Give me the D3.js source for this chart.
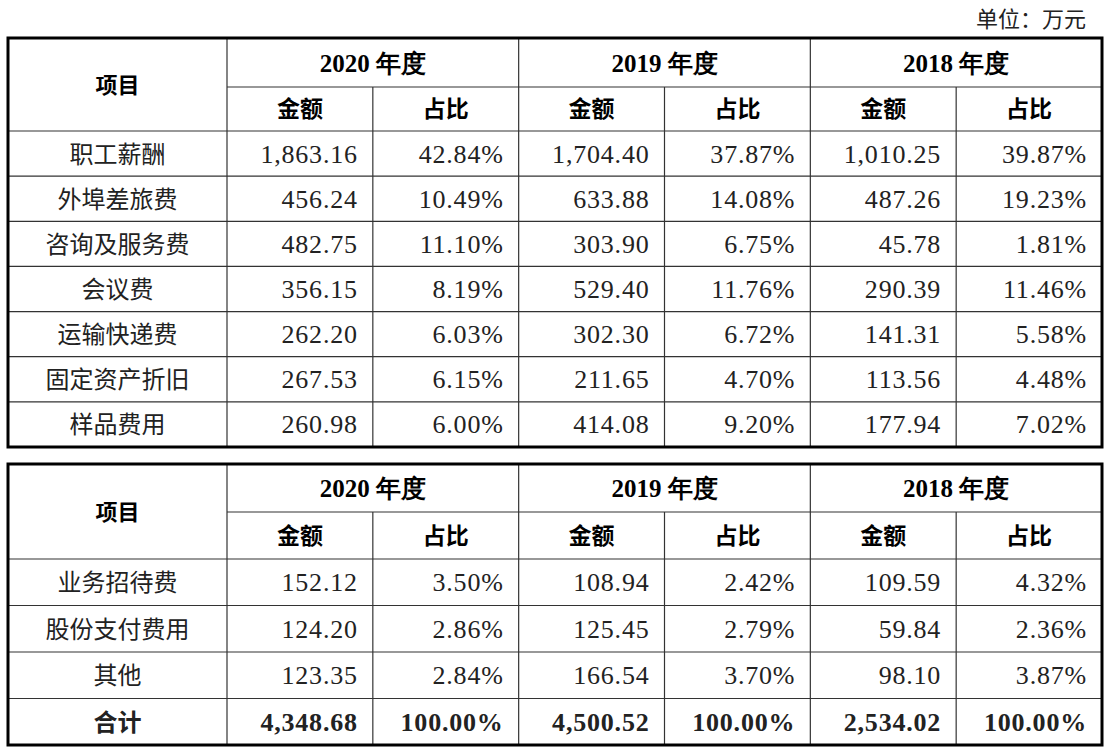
<!DOCTYPE html>
<html><head><meta charset="utf-8">
<script src="https://cdn.jsdelivr.net/npm/d3@7"></script>
<style>body{margin:0;background:#fff}</style></head>
<body><svg id="c" width="1110" height="750"></svg>
<script>
const years = ["2020 年度","2019 年度","2018 年度"];
const subHeads = ["金额","占比"];
const items1 = ["职工薪酬","外埠差旅费","咨询及服务费","会议费","运输快递费","固定资产折旧","样品费用"];
const vals1 = [
 ["1,863.16","42.84%","1,704.40","37.87%","1,010.25","39.87%"],
 ["456.24","10.49%","633.88","14.08%","487.26","19.23%"],
 ["482.75","11.10%","303.90","6.75%","45.78","1.81%"],
 ["356.15","8.19%","529.40","11.76%","290.39","11.46%"],
 ["262.20","6.03%","302.30","6.72%","141.31","5.58%"],
 ["267.53","6.15%","211.65","4.70%","113.56","4.48%"],
 ["260.98","6.00%","414.08","9.20%","177.94","7.02%"]];
const items2 = ["业务招待费","股份支付费用","其他","合计"];
const vals2 = [
 ["152.12","3.50%","108.94","2.42%","109.59","4.32%"],
 ["124.20","2.86%","125.45","2.79%","59.84","2.36%"],
 ["123.35","2.84%","166.54","3.70%","98.10","3.87%"],
 ["4,348.68","100.00%","4,500.52","100.00%","2,534.02","100.00%"]];

const svg = d3.select("#c");
const serif = "'Liberation Serif','Times New Roman',serif";
const cjk = "'Noto Sans CJK SC',sans-serif";
svg.append("text").attr("x",1086).attr("y",27).attr("text-anchor","end")
  .attr("font-family",cjk).attr("font-size",22).attr("fill","#222").text("单位：万元");

const x = d3.scaleLinear().domain([0,6]).range([227,1102]);
const left = 8;

function table(top, hh, rowsTop, rowsBottom, items, vals, lastBold){
  const g = svg.append("g");
  const y = d3.scaleBand().domain(d3.range(items.length)).range([rowsTop, rowsBottom]);
  const line = (x1,y1,x2,y2)=>g.append("line").attr("x1",x1).attr("y1",y1).attr("x2",x2).attr("y2",y2)
     .attr("stroke","#333").attr("stroke-width",1.2);
  line(x(0),hh,x(6),hh);
  line(left,rowsTop,x(6),rowsTop);
  d3.range(1,items.length).forEach(i=>line(left,y(i),x(6),y(i)));
  line(x(0),top,x(0),rowsBottom);
  [2,4].forEach(i=>line(x(i),top,x(i),rowsBottom));
  [1,3,5].forEach(i=>line(x(i),hh,x(i),rowsBottom));
  g.append("rect").attr("x",left).attr("y",top).attr("width",x(6)-left).attr("height",rowsBottom-top)
    .attr("fill","none").attr("stroke","#000").attr("stroke-width",3);
  g.append("text").attr("x",(left+x(0))/2).attr("y",(top+rowsTop)/2+8).attr("text-anchor","middle")
    .attr("font-family",cjk).attr("font-weight","bold").attr("font-size",22).text("项目");
  years.forEach((yr,i)=>{
    g.append("text").attr("x",(x(2*i)+x(2*i+2))/2).attr("y",(top+hh)/2+9).attr("text-anchor","middle")
     .attr("font-family",serif).attr("font-weight","bold").attr("font-size",25).text(yr);
    subHeads.forEach((s,j)=>g.append("text").attr("x",(x(2*i+j)+x(2*i+j+1))/2).attr("y",(hh+rowsTop)/2+8)
     .attr("text-anchor","middle").attr("font-family",cjk).attr("font-weight","bold").attr("font-size",23).text(s));
  });
  items.forEach((it,r)=>{
    const bold = lastBold && r===items.length-1;
    const cy = y(r)+y.bandwidth()/2+9;
    g.append("text").attr("x",(left+x(0))/2).attr("y",cy).attr("text-anchor","middle")
      .attr("font-family",cjk).attr("font-weight",bold?"bold":"normal").attr("font-size",24).attr("fill","#222").text(it);
    vals[r].forEach((v,c)=>g.append("text").attr("x",x(c+1)-15).attr("y",cy).attr("text-anchor","end")
      .attr("font-family",serif).attr("font-weight",bold?"bold":"normal").attr("font-size",26)
      .attr("letter-spacing",0.8).attr("fill","#222").text(v));
  });
}
table(38,87,131,447,items1,vals1,false);
table(464,512,559,745,items2,vals2,true);
</script></body></html>
